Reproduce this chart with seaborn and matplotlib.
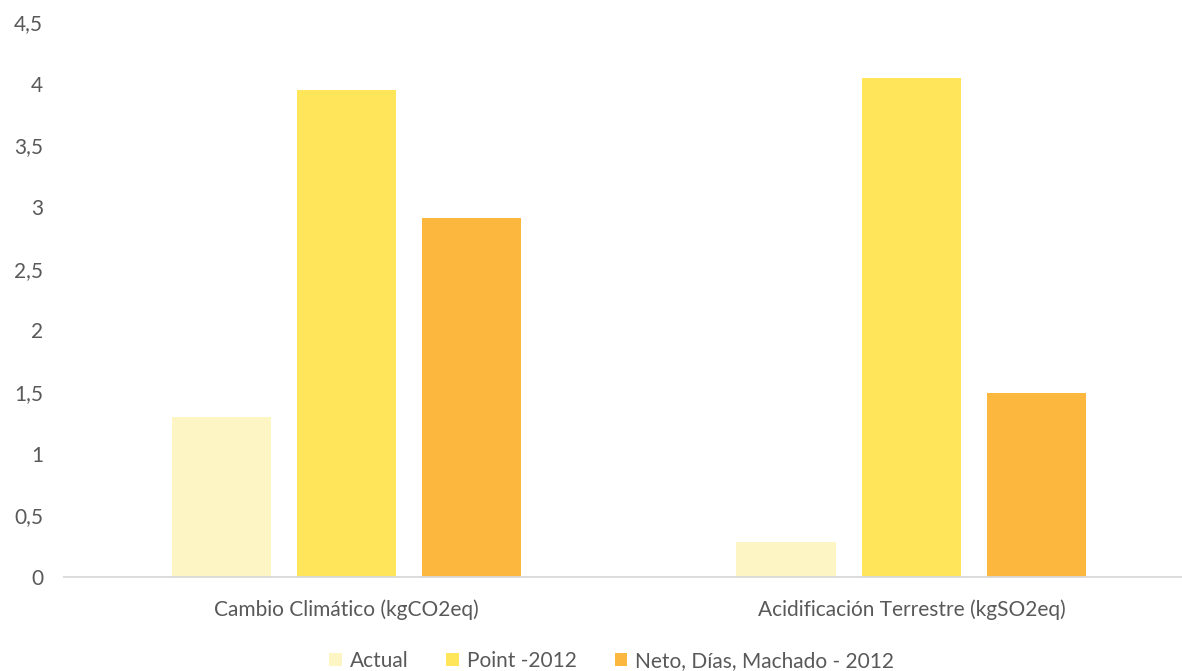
import matplotlib
matplotlib.use("Agg")
import matplotlib.pyplot as plt
import seaborn as sns
import pandas as pd
from matplotlib.ticker import FuncFormatter

categories = ["Cambio Climático (kgCO2eq)", "Acidificación Terrestre (kgSO2eq)"]
series = ["Actual", "Point -2012", "Neto, Días, Machado - 2012"]
actual = [1.30, 0.28]
point_2012 = [3.95, 4.05]
neto_2012 = [2.91, 1.49]
colors = ["#FDF5C4", "#FFE55A", "#FCB73E"]

rows = []
for name, vals in zip(series, [actual, point_2012, neto_2012]):
    for cat, v in zip(categories, vals):
        rows.append({"categoria": cat, "serie": name, "valor": v})
df = pd.DataFrame(rows)

sns.set_theme(style="white")
plt.rcParams["font.family"] = ["Lato", "DejaVu Sans"]

fig = plt.figure(figsize=(11.82, 6.71), dpi=100)
ax = fig.add_axes([64 / 1182, (671 - 577) / 671, (1182 - 64) / 1182, (577 - 22) / 671])

sns.barplot(data=df, x="categoria", y="valor", hue="serie", order=categories,
            hue_order=series, palette=colors, width=0.666, gap=0.21,
            saturation=1, edgecolor="none", ax=ax, legend=True)

ax.set_xlim(-0.5, 1.479)
ax.set_ylim(0, 4.5)
ax.set_yticks([i * 0.5 for i in range(10)])
ax.yaxis.set_major_formatter(FuncFormatter(
    lambda v, _: (f"{v:g}").replace(".", ",")))
ax.set_xlabel("")
ax.set_ylabel("")

for side in ["top", "right", "left"]:
    ax.spines[side].set_visible(False)
ax.spines["bottom"].set_color("#D9D9D9")
ax.spines["bottom"].set_linewidth(1.3)

ax.tick_params(axis="both", length=0, labelcolor="#595959", labelsize=15)
ax.tick_params(axis="y", pad=15)
ax.tick_params(axis="x", pad=16)

handles, labels = ax.get_legend_handles_labels()
ax.legend(handles, labels, loc="center", bbox_to_anchor=(0.49, -(661 - 577) / 555),
          bbox_transform=ax.transAxes, ncol=3, frameon=False, fontsize=15,
          labelcolor="#595959", handlelength=0.6, handleheight=0.6,
          handletextpad=0.4, columnspacing=1.8)

fig.savefig("out.png", dpi=100, facecolor="white")
